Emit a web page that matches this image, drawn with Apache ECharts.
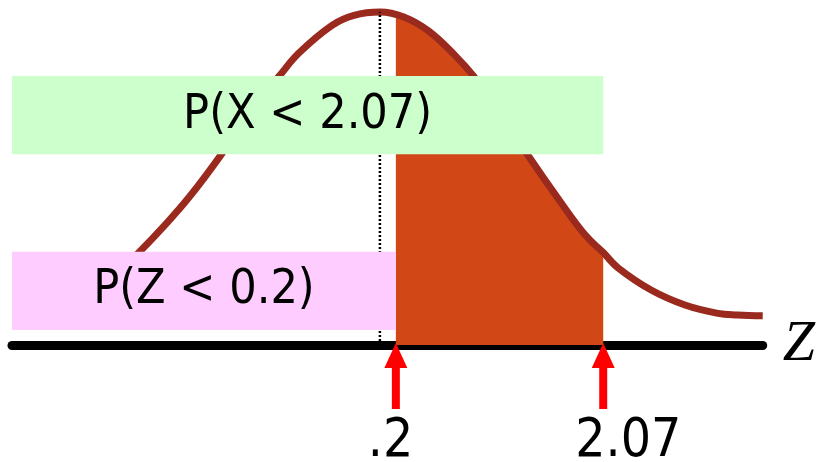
<!DOCTYPE html>
<html>
<head>
<meta charset="utf-8">
<script src="https://cdn.jsdelivr.net/npm/echarts@6/dist/echarts.min.js"></script>
<style>
html,body{margin:0;padding:0;background:#fff;}
#chart{width:818px;height:462px;}
</style>
</head>
<body>
<div id="chart"></div>
<script>
// Curve (z position, height as density)
const curveZ = [-3.60, -3.50, -3.20, -2.90, -2.65, -2.41, -2.18, -1.91, -1.59, -1.31, -1.01, -0.81, -0.48, -0.26, 0,
                0.24, 0.49, 0.76, 0.94, 1.19, 1.49, 1.81, 2.06, 2.24, 2.39, 2.72, 3.06, 3.39, 3.59, 3.84];
const curveDensity = [0.038, 0.040, 0.049, 0.064, 0.084, 0.112, 0.141, 0.178, 0.229, 0.279, 0.323, 0.351, 0.384, 0.396, 0.400,
                      0.394, 0.377, 0.347, 0.323, 0.282, 0.227, 0.172, 0.132, 0.111, 0.0925, 0.066, 0.048, 0.038, 0.036, 0.035];

// Shaded region between the two markers
const shadeZ = [0.16, 0.24, 0.49, 0.76, 0.94, 1.19, 1.49, 1.81, 2.06, 2.24];
const shadeDensity = [0.397, 0.394, 0.377, 0.347, 0.323, 0.282, 0.227, 0.172, 0.132, 0.111];

// Marker positions and tick labels
const markerZ = [0.16, 2.24];
const markerLabels = ['.2', '2.07'];

// Probability boxes
const boxLabels = ['P(X < 2.07)', 'P(Z < 0.2)'];
const boxZFrom = [-3.69, -3.69];
const boxZTo = [2.24, 0.16];
const boxDensityFrom = [0.229, 0.018];
const boxDensityTo = [0.323, 0.112];
const boxColors = ['#ccffcc', '#ffccff'];

const meanZ = 0;
const peakDensity = 0.400;

const zMin = -3.69, zMax = 3.84;

const chart = echarts.init(document.getElementById('chart'), null, {renderer: 'canvas'});
const textFamily = '"DejaVu Sans Condensed", "DejaVu Sans", sans-serif';

chart.setOption({
  animation: false,
  backgroundColor: '#ffffff',
  grid: {left: 12, right: 53, top: 12, bottom: 117},
  xAxis: {
    type: 'value', min: zMin, max: zMax,
    axisLine: {show: true, lineStyle: {color: '#000', width: 9}},
    axisTick: {show: false}, axisLabel: {show: false}, splitLine: {show: false},
    name: 'Z', nameLocation: 'end', nameGap: 20,
    nameTextStyle: {fontFamily: 'Liberation Serif', fontStyle: 'italic', fontSize: 58, color: '#000', verticalAlign: 'middle', padding: [10, 0, 0, 0]}
  },
  yAxis: {type: 'value', min: 0, max: 0.4, show: false},
  series: [
    {
      type: 'line', z: 1, clip: false, symbol: 'none', smooth: 0.4,
      data: shadeZ.map((z, i) => [z, shadeDensity[i]]),
      lineStyle: {width: 0},
      areaStyle: {color: '#d14816', opacity: 1}
    },
    {
      type: 'line', z: 2, clip: false, symbol: 'none', smooth: 0.4,
      data: curveZ.map((z, i) => [z, curveDensity[i]]),
      lineStyle: {color: '#9b2a1e', width: 7}
    },
    {
      type: 'line', z: 2, clip: false, symbol: 'none',
      data: [[meanZ, 0], [meanZ, peakDensity]],
      lineStyle: {color: '#000', width: 2.5, type: [2, 2]}
    },
    {
      type: 'line', z: 5, clip: false, symbol: 'none', data: [],
      markArea: {
        z: 10,
        silent: true,
        data: boxLabels.map((t, i) => [
          {name: t, coord: [boxZFrom[i], boxDensityFrom[i]], itemStyle: {color: boxColors[i], opacity: 1}},
          {coord: [boxZTo[i], boxDensityTo[i]]}
        ]),
        label: {show: true, position: 'inside', color: '#000', fontFamily: textFamily, fontSize: 48}
      }
    },
    {
      type: 'custom', z: 12, clip: false,
      data: markerZ.map((z, i) => [z, i]),
      renderItem: function (params, api) {
        const p = api.coord([api.value(0), 0]);
        const x = p[0], y = p[1];
        return {
          type: 'group',
          children: [
            {type: 'polygon', shape: {points: [[x, y - 2], [x - 11.5, y + 23], [x + 11.5, y + 23]]}, style: {fill: '#ff0000'}},
            {type: 'rect', shape: {x: x - 4, y: y + 21, width: 8, height: 43}, style: {fill: '#ff0000'}},
            {type: 'text', style: {
              text: markerLabels[api.value(1)], x: x - 28, y: y + 97,
              fill: '#000', font: '53px ' + textFamily, align: 'left', verticalAlign: 'middle'
            }}
          ]
        };
      }
    }
  ]
});
</script>
</body>
</html>
